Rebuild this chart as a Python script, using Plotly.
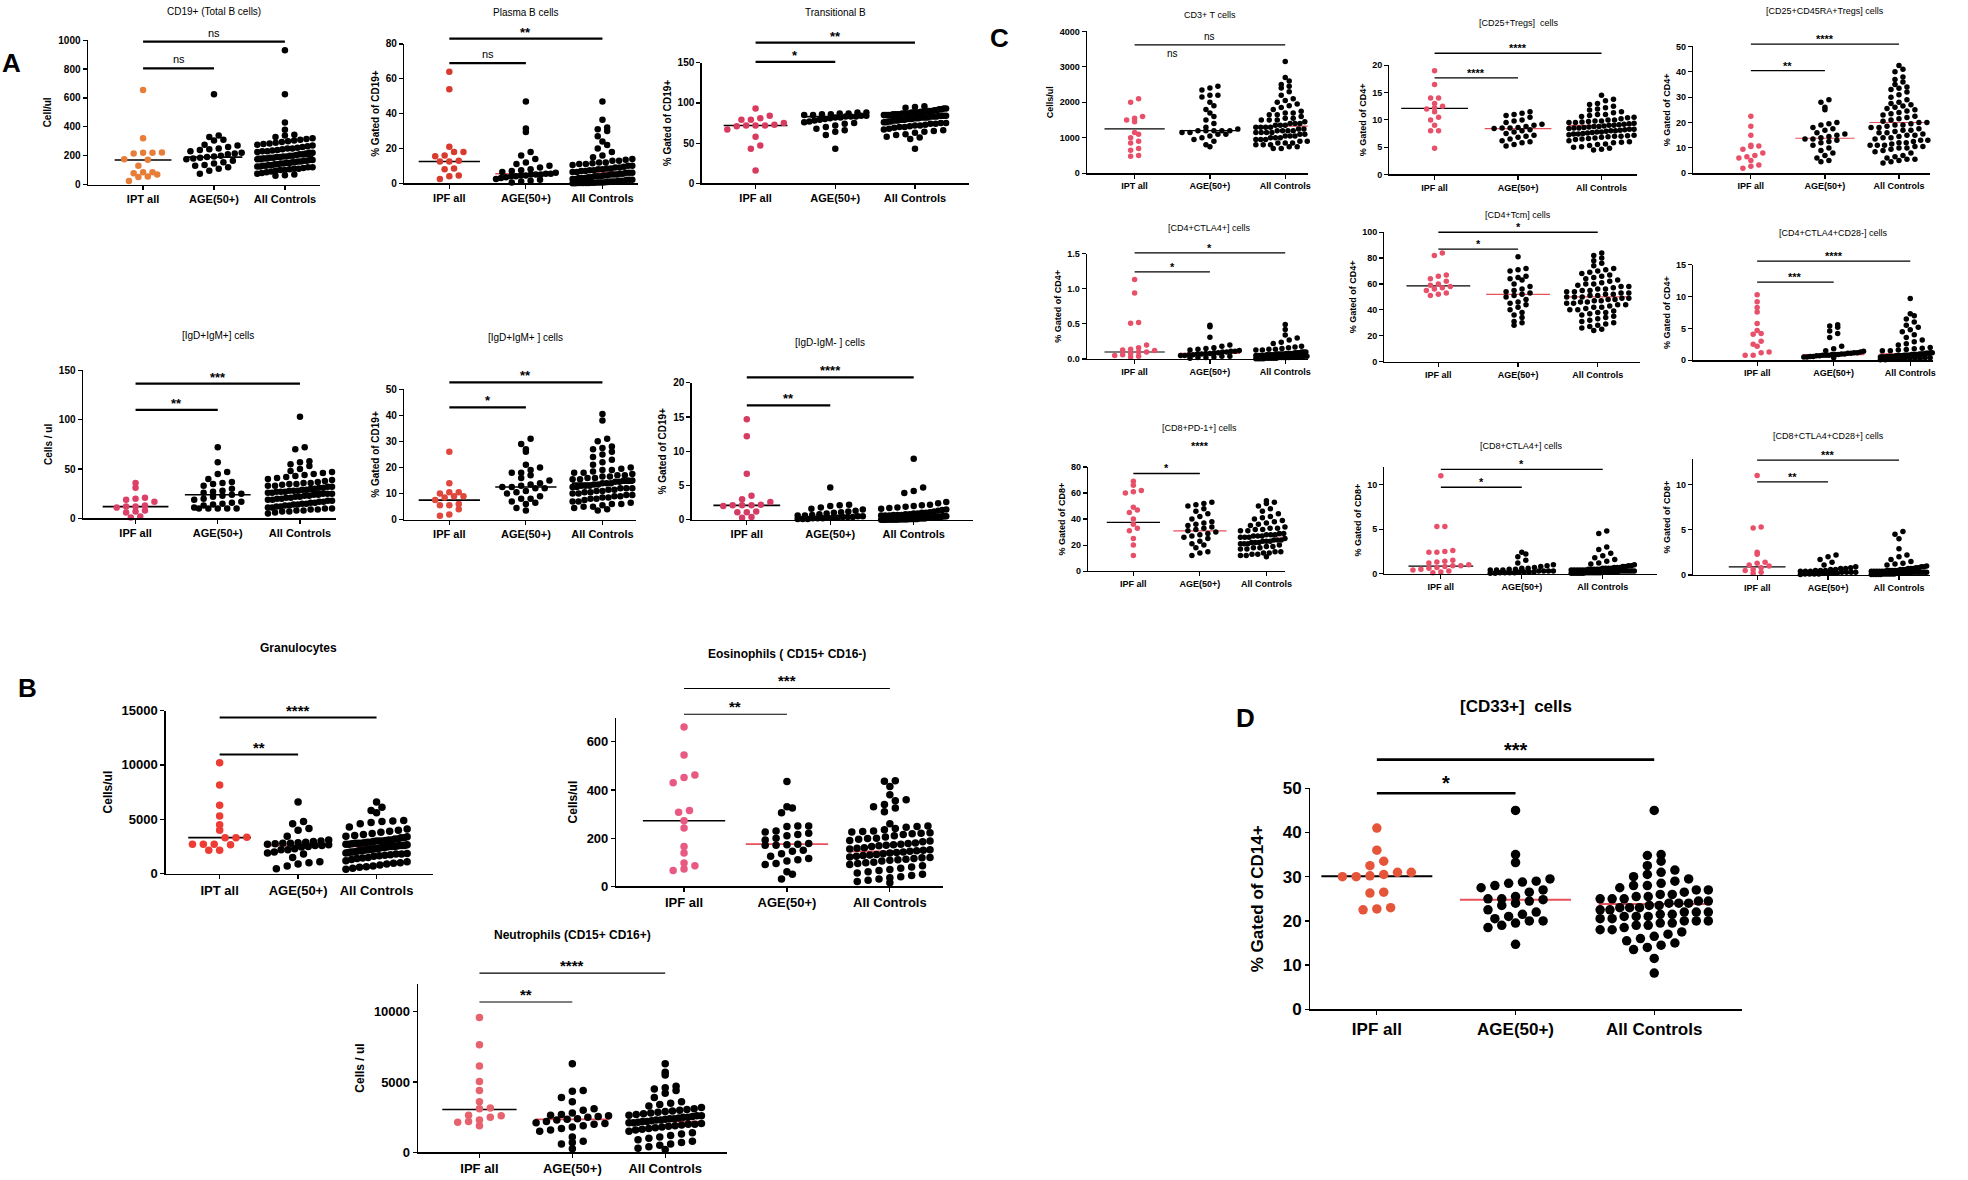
import plotly.graph_objects as go

CAT_IPF = ["IPF all", "AGE(50+)", "All Controls"]
CAT_IPT = ["IPT all", "AGE(50+)", "All Controls"]

# ---------------- Panel A data ----------------
cd19_ipf = [655, 320, 222, 220, 215, 220, 175, 172, 130, 70, 85, 85, 78, 52, 55, 25]
cd19_age = [625, 340, 330, 310, 305, 275, 270, 260, 250, 245, 240, 230, 220, 215, 210, 200, 195, 190, 185,
            180, 175, 165, 155, 145, 135, 130, 120, 110, 95, 75]
cd19_ctrl = [930, 625, 430, 380, 345, 340, 330, 320, 315, 310, 305, 300, 295, 290, 285, 280, 275, 270, 265,
             260, 255, 250, 250, 245, 240, 235, 230, 230, 225, 220, 220, 215, 210, 210, 205, 200, 200, 195,
             195, 190, 190, 185, 185, 180, 180, 175, 175, 170, 170, 165, 165, 160, 160, 155, 155, 150, 150,
             145, 145, 140, 140, 135, 135, 130, 130, 125, 125, 120, 120, 115, 110, 110, 105, 100, 100, 95,
             90, 85, 80, 75, 70, 65, 60]

plasma_ipf = [64, 54, 21, 18, 18, 16, 15.5, 13, 12.5, 12.5, 8.5, 8, 4.5, 4, 2.5]
plasma_age = [47, 31.5, 29.5, 18, 16, 14, 12, 11, 10, 9, 8, 7.5, 7, 6.5, 6, 5.5, 5.5, 5, 5, 5, 4.5, 4.5, 4, 4,
              3.5, 3, 2.5, 2, 1.5, 1, 0.5]
plasma_ctrl = [47, 36.5, 32, 31, 30, 27, 24, 22, 20, 18, 16, 15, 14, 13.5, 13, 13, 12, 12, 11.5, 11, 11, 10.5,
               10, 10, 9.5, 9, 9, 8.5, 8.5, 8, 8, 7.5, 7.5, 7, 7, 6.5, 6.5, 6, 6, 6, 5.5, 5.5, 5, 5, 5, 4.5,
               4.5, 4, 4, 4, 3.5, 3.5, 3, 3, 3, 2.5, 2.5, 2, 2, 2, 1.5, 1.5, 1.5, 1, 1, 1, 0.8, 0.6, 0.5,
               0.5, 0.4, 0.3, 0.3, 0.2, 0.2, 0.1, 0.1, 0.1, 0.05, 0.05]

trans_ipf = [93, 84, 81, 79, 79, 75, 73, 72, 72, 72, 71, 67, 58, 47, 43, 16]
trans_age = [88, 88, 87, 87, 86, 86, 85, 85, 84, 84, 83, 83, 83, 82, 82, 81, 80, 79, 78, 77, 76, 75, 74, 72,
             70, 68, 66, 64, 60, 43]
trans_ctrl = [96, 95, 94, 93, 93, 92, 92, 91, 91, 90, 90, 90, 89, 89, 89, 88, 88, 88, 88, 87, 87, 87, 87, 86,
              86, 86, 86, 85, 85, 85, 85, 84, 84, 84, 84, 83, 83, 83, 83, 82, 82, 82, 82, 81, 81, 81, 80, 80,
              80, 79, 79, 79, 78, 78, 78, 77, 77, 76, 76, 75, 75, 74, 74, 73, 72, 72, 71, 70, 70, 69, 68, 67,
              66, 65, 64, 63, 61, 60, 58, 57, 55, 43]

igdm_abs_ipf = [36, 31, 21, 20, 19, 17, 13, 12, 12, 11, 8, 7, 6, 2, 1]
igdm_abs_age = [72, 57, 47, 45, 40, 37, 36, 35, 33, 30, 28, 27, 26, 25, 24, 23, 22, 20, 19, 17, 16, 15, 14,
                13, 11, 10, 10, 10, 10, 10]
igdm_abs_ctrl = [103, 72, 70, 58, 57, 55, 53, 50, 48, 47, 46, 45, 44, 43, 42, 41, 40, 39, 38, 37, 36, 36, 35,
                 35, 34, 33, 33, 32, 32, 31, 31, 30, 30, 29, 29, 28, 28, 28, 27, 27, 27, 26, 26, 25, 25, 25,
                 24, 24, 23, 23, 22, 22, 21, 21, 20, 20, 19, 19, 18, 18, 17, 17, 16, 16, 15, 15, 14, 14, 13,
                 13, 12, 12, 11, 11, 10, 10, 9, 9, 8, 8, 7, 7, 6, 5]

igdm_pct_ipf = [26, 14, 10.5, 10.5, 10, 9, 9, 8.5, 7.5, 6, 5.5, 5.5, 4, 2, 1.5]
igdm_pct_age = [31, 29, 27, 26, 21, 20, 19, 18, 18, 17, 16, 15, 14, 13.5, 13, 12.5, 12.5, 12, 12, 11, 10.5,
                10, 9, 8, 8, 7, 6.5, 6, 4.5, 3.5]
igdm_pct_ctrl = [40.5, 38, 31, 30, 28, 27.5, 27, 26, 25, 24, 23, 22, 21, 20, 19.5, 19, 19, 18.5, 18, 18, 17.5,
                 17, 17, 16.5, 16.5, 16, 16, 15.5, 15.5, 15, 15, 15, 14.5, 14.5, 14, 14, 14, 13.5, 13.5, 13,
                 13, 13, 12.5, 12.5, 12, 12, 12, 11.5, 11.5, 11, 11, 10.5, 10.5, 10, 10, 9.5, 9.5, 9, 9, 8.5,
                 8.5, 8, 8, 7.5, 7, 7, 6.5, 6, 6, 5.5, 5, 5, 4.5, 4, 3.5]

igdmn_ipf = [14.7, 12.2, 6.7, 3.5, 3.0, 2.6, 2.2, 2.1, 2.1, 2.1, 2.0, 1.2, 1.1, 1.1, 0.4, 0.3]
igdmn_age = [4.7, 2.2, 2.1, 2.0, 1.8, 1.6, 1.5, 1.3, 1.2, 1.1, 1.0, 0.9, 0.8, 0.7, 0.6, 0.6, 0.5, 0.5, 0.4,
             0.4, 0.4, 0.3, 0.3, 0.3, 0.2, 0.2, 0.2, 0.1, 0.1, 0.1]
igdmn_ctrl = [8.9, 4.7, 4.2, 3.9, 2.6, 2.4, 2.2, 2.1, 2.0, 1.9, 1.8, 1.7, 1.6, 1.5, 1.4, 1.3, 1.2, 1.1, 1.0,
              1.0, 0.9, 0.9, 0.8, 0.8, 0.7, 0.7, 0.7, 0.6, 0.6, 0.6, 0.5, 0.5, 0.5, 0.5, 0.4, 0.4, 0.4, 0.4,
              0.4, 0.3, 0.3, 0.3, 0.3, 0.3, 0.3, 0.2, 0.2, 0.2, 0.2, 0.2, 0.2, 0.1, 0.1, 0.1, 0.1, 0.1, 0.1,
              0.1, 0.05, 0.05, 0.05, 0.05, 0.05, 0.05, 0.05, 0.03, 0.03, 0.03, 0.03, 0.03, 0.02, 0.02, 0.02,
              0.02, 0.01, 0.01, 0.01, 0.01]

# ---------------- Panel B data ----------------
gran_ipf = [10200, 8150, 6300, 5300, 4500, 4000, 3350, 3300, 3300, 2700, 2700, 2650, 2700, 2150, 2150]
gran_age = [6600, 4800, 4600, 4150, 4000, 3450, 3100, 3000, 2950, 2900, 2850, 2800, 2800, 2750, 2700, 2650,
            2600, 2600, 2500, 2450, 2300, 2200, 2200, 2000, 1900, 1800, 1500, 1100, 1000, 900, 700, 450]
gran_ctrl = [6600, 6100, 5800, 5600, 4900, 4850, 4800, 4700, 4600, 4300, 4100, 4000, 3900, 3800, 3700, 3600,
             3500, 3450, 3400, 3300, 3300, 3200, 3200, 3100, 3100, 3050, 3000, 3000, 3000, 2950, 2900, 2900,
             2850, 2800, 2800, 2800, 2750, 2700, 2700, 2650, 2600, 2600, 2600, 2550, 2500, 2500, 2500, 2450,
             2400, 2400, 2350, 2300, 2300, 2250, 2200, 2200, 2150, 2100, 2100, 2050, 2000, 2000, 1950, 1900,
             1850, 1800, 1800, 1750, 1700, 1650, 1600, 1500, 1450, 1400, 1300, 1200, 1100, 1000, 950, 900,
             800, 700, 650, 600, 500, 400]

eos_ipf = [662, 545, 462, 452, 430, 315, 308, 272, 242, 165, 138, 97, 85, 72, 65]
eos_age = [435, 330, 325, 305, 250, 250, 248, 230, 225, 220, 215, 210, 200, 192, 178, 175, 172, 170, 170, 150,
           145, 135, 125, 115, 110, 105, 95, 90, 60, 50, 30]
eos_ctrl = [438, 436, 415, 380, 360, 355, 340, 330, 325, 310, 260, 250, 248, 245, 240, 235, 230, 228, 225, 222,
            220, 218, 215, 210, 205, 200, 198, 195, 190, 188, 185, 180, 178, 175, 172, 170, 168, 165, 160, 158,
            155, 152, 150, 148, 145, 142, 140, 138, 135, 132, 130, 128, 125, 122, 120, 118, 115, 112, 110,
            108, 105, 100, 98, 95, 90, 85, 80, 75, 70, 65, 60, 55, 50, 45, 40, 35, 30, 25, 20, 15]

neut_ipf = [9600, 7650, 6150, 5050, 4400, 3600, 3150, 3100, 2650, 2600, 2500, 2300, 2200, 2150, 1900]
neut_age = [6300, 4400, 4350, 3900, 3600, 3100, 3000, 2800, 2700, 2650, 2600, 2550, 2500, 2400, 2350, 2300,
            2200, 2100, 2050, 2000, 1900, 1800, 1700, 1600, 1500, 1100, 800, 700, 600, 250]
neut_ctrl = [6300, 5700, 5500, 4700, 4600, 4500, 4400, 4200, 3900, 3600, 3500, 3400, 3300, 3200, 3100, 3050,
             3000, 2950, 2900, 2850, 2800, 2750, 2700, 2650, 2600, 2600, 2550, 2500, 2500, 2450, 2400, 2400,
             2350, 2300, 2300, 2250, 2200, 2200, 2150, 2100, 2100, 2050, 2000, 2000, 1950, 1900, 1850, 1800,
             1750, 1700, 1650, 1600, 1500, 1400, 1300, 1200, 1100, 1000, 900, 800, 700, 600, 500, 400, 300,
             200]

# ---------------- Panel C data ----------------
cd3_ipf = [2100, 2000, 1600, 1550, 1500, 1450, 1150, 1100, 1000, 900, 850, 700, 650, 500, 480]
cd3_age = [2450, 2400, 2350, 2200, 2200, 2150, 2000, 1900, 1800, 1700, 1600, 1500, 1400, 1300, 1250, 1200,
           1200, 1200, 1200, 1200, 1150, 1150, 1100, 1100, 1050, 1000, 950, 900, 800, 750]
cd3_ctrl = [3150, 2700, 2600, 2500, 2450, 2400, 2300, 2200, 2100, 2050, 2000, 1950, 1900, 1850, 1800, 1750,
            1700, 1700, 1650, 1650, 1600, 1600, 1550, 1550, 1500, 1500, 1500, 1450, 1450, 1450, 1400, 1400,
            1400, 1350, 1350, 1350, 1300, 1300, 1300, 1300, 1250, 1250, 1250, 1250, 1200, 1200, 1200, 1200,
            1150, 1150, 1150, 1150, 1100, 1100, 1100, 1100, 1050, 1050, 1050, 1000, 1000, 1000, 950, 950,
            950, 900, 900, 900, 850, 850, 850, 800, 800, 800, 750, 750, 700, 700]

treg_ipf = [19, 16.5, 14, 14, 13, 12.5, 12.2, 12, 11.5, 10.5, 10, 9, 8, 8, 4.8]
treg_age = [11.5, 11.2, 11, 10.8, 10.5, 10, 9.8, 9.5, 9.2, 9, 8.8, 8.6, 8.5, 8.5, 8.4, 8.2, 8, 7.8, 7.5, 7.2,
            7, 6.8, 6.5, 6.2, 6, 5.8, 5.5, 5.2]
treg_ctrl = [14.5, 13.8, 13.5, 13, 12.8, 12.5, 12.2, 12, 11.8, 11.5, 11.3, 11, 10.8, 10.6, 10.4, 10.2, 10, 10,
             9.8, 9.7, 9.6, 9.5, 9.4, 9.3, 9.2, 9.1, 9, 9, 8.9, 8.8, 8.7, 8.6, 8.5, 8.5, 8.4, 8.3, 8.2, 8.1,
             8, 8, 7.9, 7.8, 7.7, 7.6, 7.5, 7.4, 7.3, 7.2, 7.1, 7, 7, 6.9, 6.8, 6.7, 6.6, 6.5, 6.4, 6.2, 6,
             5.9, 5.8, 5.6, 5.5, 5.3, 5.1, 5, 4.8, 4.6, 4.5, 9.5, 10.5, 11, 9.8, 8.8, 8.3, 7.8, 7.4]

treg45_ipf = [22.5, 18.5, 15, 11, 10.7, 10.5, 9.5, 8, 7, 6.5, 6, 5, 3.2, 2.8, 2]
treg45_age = [29, 28, 26, 25, 20, 19.5, 19, 18, 17.5, 17, 16, 15.5, 15, 14.5, 14, 13.5, 13.5, 13, 12.5, 12, 11,
              10, 9, 8, 7, 6, 5, 4.5]
treg45_ctrl = [42.5, 41, 40, 38, 37, 36, 35, 34, 33.5, 33, 32, 31, 30, 29, 28, 27.5, 27, 26.5, 26, 25.5, 25,
               24.5, 24, 23.5, 23, 22.5, 22, 21.5, 21, 20.5, 20, 20, 19.5, 19, 19, 18.5, 18, 18, 17.5, 17,
               17, 16.5, 16, 16, 15.5, 15, 15, 14.5, 14, 14, 13.5, 13, 13, 12.5, 12, 12, 11.5, 11, 11, 11,
               10.5, 10.5, 10, 10, 9.5, 9, 8.5, 8, 7, 6.5, 6, 5.5, 5.5, 5, 4.5, 4]

ctla4_ipf = [1.13, 0.94, 0.52, 0.51, 0.2, 0.16, 0.14, 0.13, 0.12, 0.1, 0.1, 0.08, 0.06, 0.05, 0.04, 0.03]
ctla4_age = [0.48, 0.46, 0.31, 0.2, 0.18, 0.16, 0.15, 0.14, 0.13, 0.12, 0.11, 0.11, 0.1, 0.1, 0.09, 0.09,
             0.08, 0.08, 0.07, 0.07, 0.06, 0.06, 0.05, 0.05, 0.04, 0.04, 0.03, 0.02, 0.02, 0.01]
ctla4_ctrl = [0.49, 0.42, 0.34, 0.3, 0.27, 0.24, 0.22, 0.2, 0.19, 0.18, 0.17, 0.16, 0.15, 0.14, 0.14, 0.13,
              0.13, 0.12, 0.12, 0.11, 0.11, 0.1, 0.1, 0.1, 0.09, 0.09, 0.09, 0.08, 0.08, 0.08, 0.08, 0.07,
              0.07, 0.07, 0.07, 0.06, 0.06, 0.06, 0.06, 0.06, 0.05, 0.05, 0.05, 0.05, 0.05, 0.04, 0.04, 0.04,
              0.04, 0.04, 0.03, 0.03, 0.03, 0.03, 0.03, 0.02, 0.02, 0.02, 0.02, 0.02, 0.01, 0.01, 0.01, 0.01,
              0.01, 0.005, 0.005, 0.005, 0.005]

tcm_ipf = [84, 82, 67, 66, 64, 62, 60, 59, 58, 57, 56, 55, 53, 52, 51]
tcm_age = [81, 72, 71, 70, 66, 65, 64, 63, 60, 58, 56, 55, 54, 53, 52, 51, 50, 48, 46, 45, 44, 42, 40, 38, 36,
           34, 31, 30, 28]
tcm_ctrl = [84, 82, 80, 78, 76, 74, 72, 71, 70, 69, 68, 67, 66, 65, 64, 63, 62, 61, 60, 60, 59, 58, 58, 57,
            56, 56, 55, 55, 54, 54, 53, 53, 52, 52, 51, 51, 50, 50, 50, 49, 49, 48, 48, 47, 47, 46, 46, 45,
            45, 44, 44, 43, 42, 42, 41, 40, 40, 39, 38, 38, 37, 36, 35, 34, 33, 32, 31, 30, 29, 28, 27, 26,
            25, 24]

cd28n_ipf = [10.3, 9.2, 8.3, 7.6, 5.8, 4.7, 4.2, 4.1, 3, 2.5, 2.2, 1.3, 1.2, 0.8, 0.8]
cd28n_age = [5.6, 5.4, 5.2, 4.6, 4.2, 3.6, 2.2, 1.8, 1.5, 1.4, 1.3, 1.2, 1.2, 1.1, 1.1, 1.0, 1.0, 0.9, 0.9,
             0.9, 0.8, 0.8, 0.8, 0.7, 0.7, 0.6, 0.6, 0.5, 0.5, 0.4]
cd28n_ctrl = [9.7, 7.3, 7.0, 6.5, 6.0, 5.5, 5.2, 4.8, 4.5, 4.0, 3.6, 3.2, 2.9, 2.6, 2.4, 2.2, 2.0, 1.9, 1.8,
              1.7, 1.6, 1.5, 1.5, 1.4, 1.4, 1.3, 1.3, 1.2, 1.2, 1.2, 1.1, 1.1, 1.1, 1.0, 1.0, 1.0, 1.0, 0.9,
              0.9, 0.9, 0.9, 0.9, 0.8, 0.8, 0.8, 0.8, 0.8, 0.7, 0.7, 0.7, 0.7, 0.7, 0.6, 0.6, 0.6, 0.6, 0.6,
              0.5, 0.5, 0.5, 0.5, 0.5, 0.4, 0.4, 0.4, 0.4, 0.3, 0.3, 0.3, 0.3, 0.2, 0.2, 0.2, 0.1, 0.1]

pd1_ipf = [69, 66, 62, 61, 60, 49, 47, 45, 40, 36, 33, 31, 25, 20, 12]
pd1_age = [53, 52, 51, 50, 48, 46, 44, 42, 40, 38, 37, 36, 35, 34, 33, 32, 31, 30, 29, 28, 27, 26, 25, 23, 21,
           20, 18, 15, 14, 12]
pd1_ctrl = [54, 53, 52, 50, 48, 46, 44, 42, 41, 40, 39, 38, 37, 36, 35, 34, 34, 33, 33, 32, 32, 31, 31, 30, 30,
            29, 29, 28, 28, 28, 27, 27, 27, 26, 26, 26, 25, 25, 25, 24, 24, 24, 23, 23, 23, 22, 22, 22, 21,
            21, 21, 20, 20, 20, 19, 19, 18, 18, 17, 17, 16, 16, 15, 15, 14, 14, 13, 13, 12, 12, 11]

cd8ctla_ipf = [11, 5.3, 5.3, 2.6, 2.5, 2.4, 2.4, 1.5, 1.4, 1.3, 1.2, 1.0, 0.9, 0.9, 0.8, 0.7, 0.6, 0.5, 0.4,
               0.3, 0.2, 0.1]
cd8ctla_age = [2.4, 2.2, 1.9, 1.5, 1.2, 1.0, 0.9, 0.8, 0.7, 0.6, 0.6, 0.5, 0.5, 0.4, 0.4, 0.4, 0.3, 0.3, 0.3,
               0.3, 0.2, 0.2, 0.2, 0.2, 0.1, 0.1, 0.1, 0.1, 0.05, 0.05]
cd8ctla_ctrl = [4.8, 4.5, 3.0, 2.7, 2.3, 2.0, 1.8, 1.6, 1.4, 1.2, 1.1, 1.0, 0.9, 0.9, 0.8, 0.8, 0.7, 0.7, 0.7,
                0.6, 0.6, 0.6, 0.6, 0.5, 0.5, 0.5, 0.5, 0.5, 0.4, 0.4, 0.4, 0.4, 0.4, 0.4, 0.3, 0.3, 0.3,
                0.3, 0.3, 0.3, 0.3, 0.2, 0.2, 0.2, 0.2, 0.2, 0.2, 0.2, 0.1, 0.1, 0.1, 0.1, 0.1, 0.1, 0.1,
                0.05, 0.05, 0.05, 0.05, 0.05, 0.05]

cd8cd28_ipf = [11, 5.3, 5.2, 2.5, 2.3, 1.4, 1.3, 1.1, 1.0, 0.8, 0.6, 0.5, 0.3, 0.2]
cd8cd28_age = [2.2, 2.0, 1.7, 1.4, 1.1, 0.9, 0.8, 0.7, 0.7, 0.6, 0.6, 0.5, 0.5, 0.5, 0.4, 0.4, 0.4, 0.3, 0.3,
               0.3, 0.3, 0.2, 0.2, 0.2, 0.2, 0.1, 0.1, 0.1, 0.1, 0.05]
cd8cd28_ctrl = [4.8, 4.5, 4.0, 2.9, 2.2, 2.0, 1.7, 1.5, 1.3, 1.2, 1.1, 1.0, 0.9, 0.9, 0.8, 0.8, 0.7, 0.7, 0.7,
                0.6, 0.6, 0.6, 0.5, 0.5, 0.5, 0.5, 0.5, 0.4, 0.4, 0.4, 0.4, 0.4, 0.4, 0.3, 0.3, 0.3, 0.3,
                0.3, 0.3, 0.3, 0.2, 0.2, 0.2, 0.2, 0.2, 0.2, 0.2, 0.1, 0.1, 0.1, 0.1, 0.1, 0.1, 0.05, 0.05,
                0.05, 0.05, 0.05]

# ---------------- Panel D data ----------------
cd33_ipf = [41, 36, 33.5, 32.5, 31, 31, 30.5, 30.2, 30, 30, 26.5, 26.3, 23, 22.7, 22.5]
cd33_age = [45, 35, 33.2, 29.5, 29, 28.8, 28.5, 28, 27.5, 27, 26.5, 25.5, 25, 25, 24.8, 24.5, 24, 23.5, 22.5,
            22, 21.5, 21, 20.5, 20, 20, 19.5, 19, 18.5, 14.7]
cd33_ctrl = [45, 35, 34.8, 33.5, 32.5, 31.5, 31, 30.5, 30, 29.5, 29, 28.5, 28, 28, 27.5, 27, 27, 26.5, 26, 26,
             25.5, 25.5, 25, 25, 25, 24.5, 24.5, 24, 24, 24, 23.5, 23.5, 23, 23, 23, 22.5, 22.5, 22, 22, 22,
             21.5, 21.5, 21, 21, 21, 20.5, 20.5, 20, 20, 20, 19.5, 19.5, 19, 19, 18.5, 18, 18, 17.5, 17,
             16.5, 16, 15.5, 15, 14.5, 14, 13.5, 11.5, 8.2]

RED = "#E8505B"
BLK = "#000000"

# style presets per figure block
STY = {
    "A": dict(dot=6.5, fs=10, xfs=11, tfs=10, ytfs=10, lw=2.2, sfs=13, nsfs=11, line=1.6, so=4),
    "B": dict(dot=7.5, fs=13, xfs=13, tfs=12, ytfs=12, lw=1.6, sfs=15, nsfs=12, line=1.6, so=6),
    "C": dict(dot=5.5, fs=9, xfs=9, tfs=9, ytfs=9, lw=1.3, sfs=11, nsfs=10, line=1.2, so=4),
    "D": dict(dot=9.5, fs=17, xfs=17, tfs=17, ytfs=17, lw=2.6, sfs=20, nsfs=16, line=2.0, so=14),
}

# box = (yaxis_x, xaxis_end, cat0_x, cat2_x, y_of_top_tick, y_of_zero)  in 1568x940 reference pixels
panels = [
    dict(sty="A", title="CD19+ (Total B cells)", yt="Cell/ul", cats=CAT_IPT, box=(70, 255, 114, 227, 32, 147),
         tmax=1000, amax=1000, dt=200, data=(cd19_ipf, cd19_age, cd19_ctrl), col="#E67E3A", ty=9,
         med=(170, 190, 195), medc=(BLK, BLK, BLK), sig=[(0, 1, 805, "ns", True), (0, 2, 990, "ns", True)]),
    dict(sty="A", title="Plasma B cells", yt="% Gated of CD19+", cats=CAT_IPF, box=(322, 508, 358, 480, 35, 146),
         tmax=80, amax=80, dt=20, data=(plasma_ipf, plasma_age, plasma_ctrl), col="#D93A2E", ty=10,
         med=(12.5, 5.5, 6.5), medc=(BLK, RED, RED), sig=[(0, 1, 69, "ns", True), (0, 2, 83, "**", True)]),
    dict(sty="A", title="Transitional B", yt="% Gated of CD19+", cats=CAT_IPF, box=(559, 772, 602, 729, 50, 146),
         tmax=150, amax=150, dt=50, data=(trans_ipf, trans_age, trans_ctrl), col="#D93B5E", ty=10,
         med=(72, 83, 82), medc=(BLK, BLK, BLK), sig=[(0, 1, 151, "*", True), (0, 2, 175, "**", True)]),
    dict(sty="A", title="[IgD+IgM+] cells", yt="Cells / ul", cats=CAT_IPF, box=(66, 268, 108, 239, 295, 413),
         tmax=150, amax=150, dt=50, data=(igdm_abs_ipf, igdm_abs_age, igdm_abs_ctrl), col="#DC4069", ty=267,
         med=(12, 24, 27), medc=(BLK, BLK, BLK), sig=[(0, 1, 110, "**", True), (0, 2, 136.5, "***", True)]),
    dict(sty="A", title="[IgD+IgM+ ] cells", yt="% Gated of CD19+", cats=CAT_IPF, box=(322, 507, 358, 480, 310, 414),
         tmax=50, amax=50, dt=10, data=(igdm_pct_ipf, igdm_pct_age, igdm_pct_ctrl), col="#E0473D", ty=269,
         med=(7.5, 12.5, 14), medc=(BLK, BLK, BLK), sig=[(0, 1, 43, "*", True), (0, 2, 52.6, "**", True)]),
    dict(sty="A", title="[IgD-IgM- ] cells", yt="% Gated of CD19+", cats=CAT_IPF, box=(551, 775, 595, 728, 305, 414),
         tmax=20, amax=20, dt=5, data=(igdmn_ipf, igdmn_age, igdmn_ctrl), col="#D43C64", ty=273,
         med=(2.1, 0.3, 0.3), medc=(BLK, RED, RED), sig=[(0, 1, 16.7, "**", True), (0, 2, 20.8, "****", True)]),
    dict(sty="B", title="Granulocytes", yt="Cells/ul", cats=CAT_IPT, box=(132, 345, 175, 300, 566, 696),
         tmax=15000, amax=15000, dt=5000, data=(gran_ipf, gran_age, gran_ctrl), col="#EE3B33", ty=516,
         med=(3320, 2600, 2500), medc=(BLK, RED, RED), sig=[(0, 1, 10950, "**", True), (0, 2, 14350, "****", True)],
         lw=2.0),
    dict(sty="B", title="Eosinophils ( CD15+ CD16-)", yt="Cells/ul", cats=CAT_IPF, box=(491, 751, 545, 709, 591, 706),
         tmax=600, amax=700, dt=200, data=(eos_ipf, eos_age, eos_ctrl), col="#E85A82", ty=521,
         med=(272, 175, 145), medc=(BLK, RED, RED), sig=[(0, 1, 715, "**", True), (0, 2, 822, "***", True)],
         lw=1.1),
    dict(sty="B", title="Neutrophils (CD15+ CD16+)", yt="Cells / ul", cats=CAT_IPF, box=(333, 579, 382, 530, 806, 918),
         tmax=10000, amax=12000, dt=5000, data=(neut_ipf, neut_age, neut_ctrl), col="#E5626E", ty=745,
         med=(3050, 2350, 2200), medc=(BLK, RED, RED), sig=[(0, 1, 10700, "**", True), (0, 2, 12750, "****", True)],
         lw=1.1),
    dict(sty="C", title="CD3+ T cells", yt="Cells/ul", cats=CAT_IPT, box=(866, 1042, 904, 1024, 25, 138),
         tmax=4000, amax=4000, dt=1000, data=(cd3_ipf, cd3_age, cd3_ctrl), col="#E8506A", ty=12,
         med=(1250, 1200, 1330), medc=(BLK, BLK, RED), sig=[(0, 1, 3150, "ns", False), (0, 2, 3620, "ns", True)]),
    dict(sty="C", title="[CD25+Tregs]  cells", yt="% Gated of CD4+", cats=CAT_IPF, box=(1107, 1304, 1143, 1276, 52, 139),
         tmax=20, amax=20, dt=5, data=(treg_ipf, treg_age, treg_ctrl), col="#E8506A", ty=18,
         med=(12.1, 8.4, 9), medc=(BLK, RED, RED), sig=[(0, 1, 17.7, "****", True), (0, 2, 22.2, "****", True)]),
    dict(sty="C", title="[CD25+CD45RA+Tregs] cells", yt="% Gated of CD4+", cats=CAT_IPF, box=(1349, 1538, 1395, 1513, 37, 138),
         tmax=50, amax=50, dt=10, data=(treg45_ipf, treg45_age, treg45_ctrl), col="#E8506A", ty=9,
         med=(None, 13.8, 20), medc=(BLK, RED, RED), sig=[(0, 1, 40.5, "**", True), (0, 2, 50.9, "****", True)]),
    dict(sty="C", title="[CD4+CTLA4+] cells", yt="% Gated of CD4+", cats=CAT_IPF, box=(866, 1042, 904, 1024, 202, 286),
         tmax=1.5, amax=1.5, dt=0.5, fmt=".1f", data=(ctla4_ipf, ctla4_age, ctla4_ctrl), col="#E8506A", ty=182,
         med=(0.1, 0.08, 0.06), medc=(BLK, RED, RED), sig=[(0, 1, 1.24, "*", True), (0, 2, 1.51, "*", True)]),
    dict(sty="C", title="[CD4+Tcm] cells", yt="% Gated of CD4+", cats=CAT_IPF, box=(1103, 1307, 1146, 1273, 185, 288),
         tmax=100, amax=100, dt=20, data=(tcm_ipf, tcm_age, tcm_ctrl), col="#E8506A", ty=171,
         med=(58.5, 52, 50), medc=(BLK, RED, RED), sig=[(0, 1, 87, "*", True), (0, 2, 100, "*", True)]),
    dict(sty="C", title="[CD4+CTLA4+CD28-] cells", yt="% Gated of CD4+", cats=CAT_IPF, box=(1349, 1540, 1400, 1522, 211, 287),
         tmax=15, amax=15, dt=5, data=(cd28n_ipf, cd28n_age, cd28n_ctrl), col="#E8506A", ty=186,
         med=(None, 0.9, 1.0), medc=(BLK, RED, RED), sig=[(0, 1, 12.3, "***", True), (0, 2, 15.6, "****", True)]),
    dict(sty="C", title="[CD8+PD-1+] cells", yt="% Gated of CD8+", cats=CAT_IPF, box=(867, 1024, 903, 1009, 372, 455),
         tmax=80, amax=80, dt=20, data=(pd1_ipf, pd1_age, pd1_ctrl), col="#E8506A", ty=341,
         med=(37.5, 31, 27), medc=(BLK, RED, RED), sig=[(0, 1, 75, "*", True), (0, 2, 92, "****", False)]),
    dict(sty="C", title="[CD8+CTLA4+] cells", yt="% Gated of CD8+", cats=CAT_IPF, box=(1103, 1320, 1148, 1277, 386, 457),
         tmax=10, amax=12, dt=5, data=(cd8ctla_ipf, cd8ctla_age, cd8ctla_ctrl), col="#E8506A", ty=355,
         med=(0.85, 0.3, 0.3), medc=(BLK, RED, RED), sig=[(0, 1, 9.7, "*", True), (0, 2, 11.7, "*", True)]),
    dict(sty="C", title="[CD8+CTLA4+CD28+] cells", yt="% Gated of CD8+", cats=CAT_IPF, box=(1349, 1538, 1400, 1513, 386, 458),
         tmax=10, amax=12.8, dt=5, data=(cd8cd28_ipf, cd8cd28_age, cd8cd28_ctrl), col="#E8506A", ty=347,
         med=(0.9, 0.3, 0.3), medc=(BLK, RED, RED), sig=[(0, 1, 10.3, "**", True), (0, 2, 12.7, "***", True)]),
    dict(sty="D", title="[CD33+]  cells", yt="% Gated of CD14+", cats=CAT_IPF, box=(1044, 1388, 1097, 1318, 628, 804),
         tmax=50, amax=50, dt=10, data=(cd33_ipf, cd33_age, cd33_ctrl), col="#E5553A", ty=563,
         med=(30.1, 24.8, 23.8), medc=(BLK, RED, RED), sig=[(0, 1, 48.9, "*", True), (0, 2, 56.5, "***", True)]),
]

LETTERS = [("A", 0, 50), ("B", 13, 548), ("C", 787, 30), ("D", 983, 572)]

SW, SH = 1568.0, 940.0
K = 1968.0 / 1568.0
FONT = "Liberation Sans, Arial, Helvetica, sans-serif"


def px(x):
    return x / SW


def py(y):
    return 1 - y / SH


def swarm(vals, center, dy, dx, maxw):
    rows = {}
    for v in sorted(vals):
        rows.setdefault(int(round(v / dy)), []).append(v)
    xs, ys = [], []
    for k in sorted(rows):
        vs = rows[k]
        n = len(vs)
        step = dx if n <= 1 else min(dx, maxw / (n - 1))
        for i, v in enumerate(vs):
            xs.append(center + (i - (n - 1) / 2.0) * step)
            ys.append(v)
    return xs, ys


fig = go.Figure()
shapes, annots = [], []
layout = dict(width=1968, height=1180, margin=dict(l=0, r=0, t=0, b=0, pad=0), autosize=False,
              paper_bgcolor="white", plot_bgcolor="white", showlegend=False)

for idx, p in enumerate(panels, start=1):
    st = STY[p["sty"]]
    ax, end, c0, c2, ytp, y0 = p["box"]
    u = 2.0 / (c2 - c0)
    xr = [-(c0 - ax) * u, 2 + (end - c2) * u]
    ytop_axis = y0 - (y0 - ytp) * p["amax"] / p["tmax"]
    xdom = [px(ax), px(end)]
    ydom = [py(y0), py(ytop_axis)]
    xn = "x" if idx == 1 else f"x{idx}"
    yn = "y" if idx == 1 else f"y{idx}"
    xk = "xaxis" if idx == 1 else f"xaxis{idx}"
    yk = "yaxis" if idx == 1 else f"yaxis{idx}"

    plot_h = (y0 - ytp) * K
    dy = st["dot"] / plot_h * p["tmax"] * 1.1
    dx = st["dot"] / K * u * 1.45
    cols = [p["col"], BLK, BLK]

    for g in range(3):
        xs, ys = swarm(p["data"][g], g, dy, dx, 0.78)
        fig.add_trace(go.Scatter(x=xs, y=ys, mode="markers", xaxis=xn, yaxis=yn, cliponaxis=False,
                                 marker=dict(size=st["dot"], color=cols[g], line=dict(width=0)),
                                 hoverinfo="skip"))
        m = p["med"][g]
        if m is not None:
            shapes.append(dict(type="line", xref=xn, yref=yn, x0=g - 0.4, x1=g + 0.4, y0=m, y1=m,
                               line=dict(color=p["medc"][g], width=st["line"]), layer="below"))

    layout[xk] = dict(domain=xdom, range=xr, anchor=yn, showline=True, linecolor="black", linewidth=1.3,
                      ticks="outside", ticklen=4, tickwidth=1.2, tickcolor="black", automargin=False,
                      tickvals=[0, 1, 2], ticktext=p["cats"], showgrid=False, zeroline=False,
                      tickfont=dict(family=FONT, size=st["xfs"], color="black", weight="bold"), fixedrange=True)
    ya = dict(domain=ydom, range=[0, p["amax"]], anchor=xn, showline=True, linecolor="black", linewidth=1.3,
              ticks="outside", ticklen=4, tickwidth=1.2, tickcolor="black", dtick=p["dt"], tick0=0,
              showgrid=False, zeroline=False, automargin=False, tickformat=p.get("fmt", "d"),
              tickfont=dict(family=FONT, size=st["fs"], color="black", weight="bold"),
              title=dict(text=p["yt"], font=dict(family=FONT, size=st["ytfs"], color="black", weight="bold"),
                         standoff=st["so"]), fixedrange=True)
    layout[yk] = ya

    # panel title
    annots.append(dict(text=p["title"], x=px((c0 + c2) / 2.0), y=py(p["ty"]), xref="paper", yref="paper",
                       showarrow=False, xanchor="center", yanchor="middle",
                       font=dict(family=FONT, size=st["tfs"], color="black",
                                 weight="bold" if p["sty"] in ("B", "D") else "normal")))

    def xp(c):
        return px(c0 + c / u)

    def yp(v):
        return py(y0 - (y0 - ytp) * v / p["tmax"])

    lw = p.get("lw", st["lw"])
    for (a, b, v, lab, has_line) in p["sig"]:
        if has_line:
            shapes.append(dict(type="line", xref="paper", yref="paper", x0=xp(a), x1=xp(b), y0=yp(v), y1=yp(v),
                               line=dict(color="black", width=lw)))
        is_ns = lab == "ns"
        annots.append(dict(text=lab, x=(xp(a) + xp(b)) / 2.0 if has_line else xp((a + b) / 2.0 if b == 2 else 0.5),
                           y=yp(v), xref="paper", yref="paper", showarrow=False, xanchor="center",
                           yanchor="bottom", yshift=1 if is_ns else -3,
                           font=dict(family=FONT, size=st["nsfs"] if is_ns else st["sfs"], color="black",
                                     weight="normal" if is_ns else "bold")))

for (lt, lx, ly) in LETTERS:
    annots.append(dict(text=lt, x=px(lx), y=py(ly), xref="paper", yref="paper", showarrow=False,
                       xanchor="left", yanchor="middle",
                       font=dict(family=FONT, size=26, color="black", weight="bold")))

layout["shapes"] = shapes
layout["annotations"] = annots
fig.update_layout(**layout)
fig.write_html("out.html", config={"displayModeBar": False, "staticPlot": True},
               post_script="document.body.style.margin='0px';document.body.style.padding='0px';"
                           "document.body.style.overflow='hidden';")
